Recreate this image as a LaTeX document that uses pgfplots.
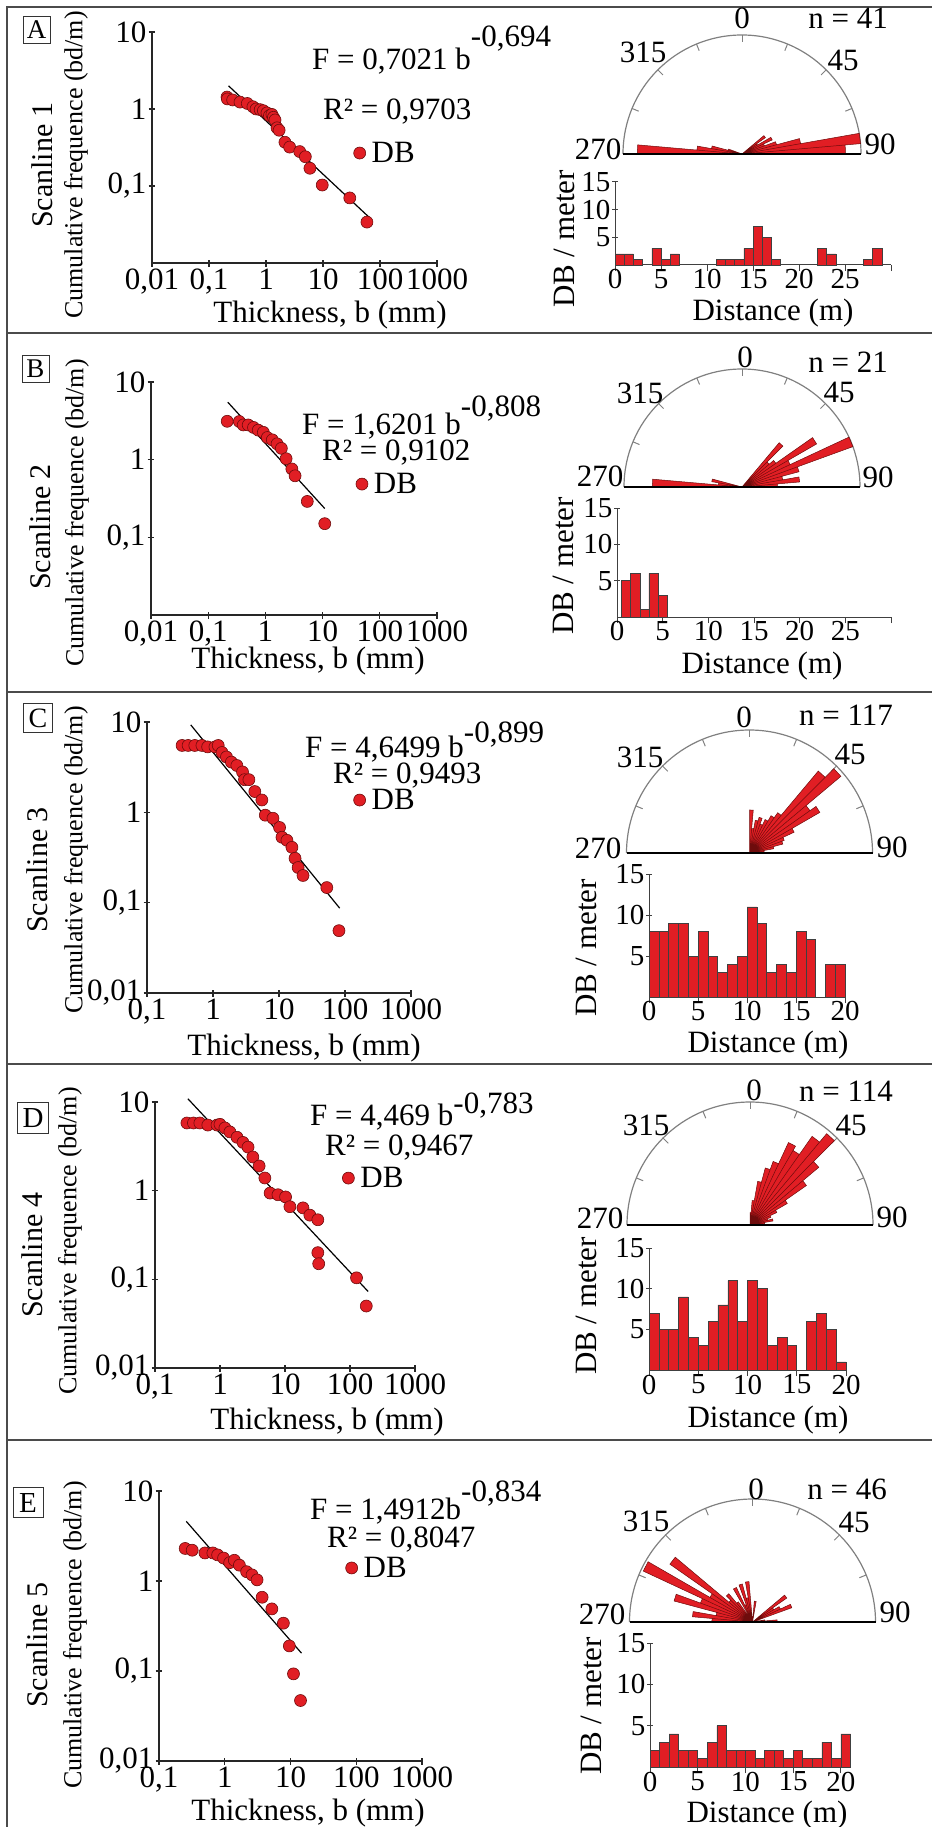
\documentclass[border=0pt]{standalone}
\usepackage{fontspec}
\setmainfont{Liberation Serif}
\usepackage{pgfplots}
\pgfplotsset{compat=1.18}
\usepgfplotslibrary{polar}
\definecolor{mred}{RGB}{225,30,36}
\definecolor{dred}{RGB}{110,12,12}
\definecolor{framec}{RGB}{75,75,75}
\newcommand{\fs}[1]{\fontsize{#1}{#1}\selectfont}
\pgfplotsset{
 myscat/.style={scale only axis, axis lines*=left,
   axis line style={line width=1.5pt, black!85}, tick style={line width=1.2pt, black!85},
   major tick length=7pt, tick align=center, xminorticks=false, yminorticks=false,
   ticklabel style={font=\fs{31}, inner sep=2pt}, enlargelimits=false, clip=false,
   ymin=0.01, ymax=10, anchor=south west,
   legend style={draw=none, fill=none, anchor=west, font=\fs{31}, inner sep=0pt, column sep=4pt}},
 mydots/.style={only marks, mark=*, mark size=6pt, mark options={fill=mred, draw=dred, line width=0.6pt}},
 myfit/.style={black, line width=1.2pt, no marks},
 myhist/.style={scale only axis, axis lines*=left, anchor=south west, ymin=0, ymax=15, ytick={5,10,15},
   axis line style={line width=1pt, black!75}, tick style={line width=1pt, black!75},
   major tick length=6pt, tick align=center, ybar, bar width=1, bar shift=0pt,
   ticklabel style={font=\fs{29}, inner sep=1.5pt}, xticklabel style={yshift=3pt}, enlargelimits=false, clip=false,
   /pgf/number format/assume math mode=true},
 mybars/.style={fill=mred, draw=black!75, line width=0.6pt},
 myrose/.style={scale only axis, axis lines=none, xmin=-1, xmax=1, ymin=0, ymax=1, clip=false, enlargelimits=false, anchor=south west},
 mypetals/.style={data cs=polar, fill=mred, draw=dred, line width=0.5pt, no marks},
}
\begin{document}
\begin{tikzpicture}
\useasboundingbox (0pt,0pt) rectangle (932pt,-1827pt);
\draw[framec, line width=2pt] (7pt,-1827pt) -- (7pt,-7pt) -- (932pt,-7pt);
\draw[framec, line width=2pt] (7pt,-333pt) -- (932pt,-333pt);
\draw[framec, line width=2pt] (7pt,-692pt) -- (932pt,-692pt);
\draw[framec, line width=2pt] (7pt,-1064pt) -- (932pt,-1064pt);
\draw[framec, line width=2pt] (7pt,-1440pt) -- (932pt,-1440pt);

%================ PANEL A =================
\begin{axis}[xmode=log, ymode=log, myscat, at={(152pt,-263pt)}, width=285pt, height=231pt, xmin=0.01, xmax=1000,
  xtick={0.01,0.1,1,10,100,1000}, xticklabels={\mbox{0,01},\mbox{0,1},1,10,100,1000},
  ytick={0.1,1,10}, yticklabels={\mbox{0,1},1,10}, legend style={at={(0.707,0.476)}}]
\addplot[mydots] coordinates {(0.207,1.43) (0.21,1.35) (0.26,1.31) (0.35,1.23) (0.47,1.18) (0.59,1.07) (0.67,1.0) (0.79,0.98) (0.9,0.95) (1.04,0.89) (1.15,0.82) (1.27,0.85) (1.35,0.78) (1.44,0.72) (1.56,0.57) (1.7,0.53) (2.15,0.37) (2.6,0.32) (3.9,0.28) (4.9,0.24) (5.9,0.17) (9.7,0.103) (29.5,0.07) (59,0.034)};
\addlegendentry{DB}
\addplot[myfit] coordinates {(0.22,2.0) (65,0.039)};
\end{axis}
\node[draw=black!80, line width=0.8pt, inner sep=0pt, minimum size=27pt, font=\fs{27}] at (36.5pt,-30pt) {A};
\node[rotate=90, font=\fs{30}] at (42pt,-165pt) {Scanline 1};
\node[rotate=90, font=\fs{26}] at (76pt,-165pt) {Cumulative frequence (bd/m)};
\node[anchor=base, font=\fs{31}, inner sep=0pt] at (330pt,-322pt) {Thickness, b (mm)};
\node[anchor=base west, inner sep=0pt, font=\fs{31}] at (312pt,-70pt) {F = 0,7021 b\raisebox{23pt}{-0,694}};
\node[anchor=base west, inner sep=0pt, font=\fs{31}] at (323pt,-120pt) {R² = 0,9703};

\begin{axis}[myrose, at={(623pt,-154pt)}, width=238pt, height=119pt]
\draw[gray, line width=1.2pt] (axis cs:1,0) arc[start angle=0, end angle=180, radius=119pt];
\pgfplotsinvokeforeach{22.5,45,67.5,90,112.5,135,157.5}{\draw[gray, line width=1pt] (axis cs:{cos(#1)},{sin(#1)}) -- (axis cs:{0.94*cos(#1)},{0.94*sin(#1)});}
\addplot[mypetals] coordinates {(0,0) (0,0.87) (5,0.87) (0,0) (5,1) (10,1) (0,0) (10,0.5) (15,0.5) (0,0) (15,0.3) (20,0.3) (0,0) (20,0.2) (25,0.2) (0,0) (25,0.28) (30,0.28) (0,0) (30,0.15) (35,0.15) (0,0) (35,0.24) (40,0.24) (0,0) (160,0.12) (165,0.12) (0,0) (165,0.26) (170,0.26) (0,0) (170,0.38) (175,0.38) (0,0) (175,0.88) (180,0.88) (0,0)} -- cycle;
\draw[black, line width=1.6pt] (axis cs:-1,0) -- (axis cs:1,0);
\end{axis}
\node[font=\fs{31}, inner sep=0pt] at (742pt,-18pt) {0};
\node[font=\fs{31}, inner sep=0pt] at (848pt,-18pt) {n = 41};
\node[font=\fs{31}, inner sep=0pt] at (643pt,-52pt) {315};
\node[font=\fs{31}, inner sep=0pt] at (843pt,-60pt) {45};
\node[font=\fs{31}, inner sep=0pt] at (598pt,-149pt) {270};
\node[font=\fs{31}, inner sep=0pt] at (880pt,-144pt) {90};

\begin{axis}[myhist, at={(615pt,-265pt)}, width=276pt, height=83pt, xmin=0, xmax=30,
  xtick={0,5,10,15,20,25,30}, xticklabels={0,5,10,15,20,25,{}}]
\addplot[mybars] coordinates {(0.5,2) (1.5,2) (2.5,1) (4.5,3) (5.5,1) (6.5,2) (11.5,1) (12.5,1) (13.5,1) (14.5,3) (15.5,7) (16.5,5) (17.5,1) (22.5,3) (23.5,2) (27.5,1) (28.5,3)};
\end{axis}
\node[rotate=90, font=\fs{31}] at (564pt,-239pt) {DB / meter};
\node[anchor=base, font=\fs{31}, inner sep=0pt] at (773pt,-320pt) {Distance (m)};

%================ PANEL B =================
\begin{axis}[xmode=log, ymode=log, myscat, at={(151pt,-615pt)}, width=286pt, height=233pt, xmin=0.01, xmax=1000,
  xtick={0.01,0.1,1,10,100,1000}, xticklabels={\mbox{0,01},\mbox{0,1},1,10,100,1000},
  ytick={0.1,1,10}, yticklabels={\mbox{0,1},1,10}, legend style={at={(0.716,0.562)}}]
\addplot[mydots] coordinates {(0.215,3.12) (0.35,3.1) (0.41,2.8) (0.5,2.8) (0.62,2.6) (0.75,2.4) (0.92,2.25) (1.08,1.93) (1.32,1.8) (1.6,1.6) (1.9,1.4) (2.3,1.03) (2.9,0.76) (3.3,0.62) (5.4,0.29) (10.9,0.15)};
\addlegendentry{DB}
\addplot[myfit] coordinates {(0.22,5.5) (10.9,0.235)};
\end{axis}
\node[draw=black!80, line width=0.8pt, inner sep=0pt, minimum size=27pt, font=\fs{27}] at (35.5pt,-369pt) {B};
\node[rotate=90, font=\fs{30}] at (40pt,-527pt) {Scanline 2};
\node[rotate=90, font=\fs{26}] at (77pt,-513pt) {Cumulative frequence (bd/m)};
\node[anchor=base, font=\fs{31}, inner sep=0pt] at (308pt,-668pt) {Thickness, b (mm)};
\node[anchor=base west, inner sep=0pt, font=\fs{31}] at (302pt,-434pt) {F = 1,6201 b\raisebox{18pt}{-0,808}};
\node[anchor=base west, inner sep=0pt, font=\fs{31}] at (322pt,-460pt) {R² = 0,9102};

\begin{axis}[myrose, at={(624pt,-487pt)}, width=236pt, height=118pt]
\draw[gray, line width=1.2pt] (axis cs:1,0) arc[start angle=0, end angle=180, radius=118pt];
\pgfplotsinvokeforeach{22.5,45,67.5,90,112.5,135,157.5}{\draw[gray, line width=1pt] (axis cs:{cos(#1)},{sin(#1)}) -- (axis cs:{0.94*cos(#1)},{0.94*sin(#1)});}
\addplot[mypetals] coordinates {(0,0) (0,0.3) (5,0.3) (0,0) (5,0.49) (10,0.49) (0,0) (10,0.35) (15,0.35) (0,0) (15,0.5) (20,0.5) (0,0) (20,1) (25,1) (0,0) (25,0.45) (30,0.45) (0,0) (30,0.73) (35,0.73) (0,0) (35,0.35) (40,0.35) (0,0) (40,0.3) (45,0.3) (0,0) (45,0.49) (50,0.49) (0,0) (165,0.26) (170,0.26) (0,0) (170,0.2) (175,0.2) (0,0) (175,0.76) (180,0.76) (0,0)} -- cycle;
\draw[black, line width=1.6pt] (axis cs:-1,0) -- (axis cs:1,0);
\end{axis}
\node[font=\fs{31}, inner sep=0pt] at (745pt,-357pt) {0};
\node[font=\fs{31}, inner sep=0pt] at (848pt,-362pt) {n = 21};
\node[font=\fs{31}, inner sep=0pt] at (640pt,-393pt) {315};
\node[font=\fs{31}, inner sep=0pt] at (839pt,-392pt) {45};
\node[font=\fs{31}, inner sep=0pt] at (600pt,-476pt) {270};
\node[font=\fs{31}, inner sep=0pt] at (878pt,-477pt) {90};

\begin{axis}[myhist, at={(617pt,-617pt)}, width=274pt, height=109pt, xmin=0, xmax=30,
  xtick={0,5,10,15,20,25,30}, xticklabels={0,5,10,15,20,25,{}}]
\addplot[mybars] coordinates {(1,5) (2,6) (3,1) (4,6) (5,3)};
\end{axis}
\node[rotate=90, font=\fs{31}] at (563pt,-566pt) {DB / meter};
\node[anchor=base, font=\fs{31}, inner sep=0pt] at (762pt,-673pt) {Distance (m)};

%================ PANEL C =================
\begin{axis}[xmode=log, ymode=log, myscat, at={(147pt,-993pt)}, width=264pt, height=271pt, xmin=0.1, xmax=1000,
  xtick={0.1,1,10,100,1000}, xticklabels={\mbox{0,1},1,10,100,1000},
  ytick={0.01,0.1,1,10}, yticklabels={\mbox{0,01},\mbox{0,1},1,10}, legend style={at={(0.782,0.712)}}]
\addplot[mydots] coordinates {(0.34,5.5) (0.42,5.5) (0.53,5.5) (0.68,5.5) (0.83,5.3) (1.07,5.3) (1.2,5.5) (1.37,4.6) (1.6,4.1) (1.9,3.6) (2.3,3.3) (2.8,2.8) (3.0,2.3) (3.5,2.3) (4.3,1.7) (5.5,1.37) (6.2,0.93) (8.1,0.86) (10.2,0.68) (11.1,0.53) (13.2,0.49) (15.7,0.41) (17.5,0.31) (19.5,0.245) (23.1,0.2) (53,0.147) (81,0.049)};
\addlegendentry{DB}
\addplot[myfit] coordinates {(0.46,9.3) (83,0.087)};
\end{axis}
\node[draw=black!80, line width=0.8pt, inner sep=0pt, minimum size=29pt, font=\fs{28}] at (38pt,-718pt) {C};
\node[rotate=90, font=\fs{30}] at (37pt,-870pt) {Scanline 3};
\node[rotate=90, font=\fs{26}] at (76pt,-860pt) {Cumulative frequence (bd/m)};
\node[anchor=base, font=\fs{31}, inner sep=0pt] at (304pt,-1055pt) {Thickness, b (mm)};
\node[anchor=base west, inner sep=0pt, font=\fs{31}] at (305pt,-757pt) {F = 4,6499 b\raisebox{15pt}{-0,899}};
\node[anchor=base west, inner sep=0pt, font=\fs{31}] at (333pt,-783pt) {R² = 0,9493};

\begin{axis}[myrose, at={(626.5pt,-853pt)}, width=246pt, height=123pt]
\draw[gray, line width=1.2pt] (axis cs:1,0) arc[start angle=0, end angle=180, radius=123pt];
\pgfplotsinvokeforeach{22.5,45,67.5,90,112.5,135,157.5}{\draw[gray, line width=1pt] (axis cs:{cos(#1)},{sin(#1)}) -- (axis cs:{0.94*cos(#1)},{0.94*sin(#1)});}
\addplot[mypetals] coordinates {(0,0) (0,0.08) (5,0.08) (0,0) (5,0.12) (10,0.12) (0,0) (10,0.2) (15,0.2) (0,0) (15,0.28) (20,0.28) (0,0) (20,0.3) (25,0.3) (0,0) (25,0.4) (30,0.4) (0,0) (30,0.66) (35,0.66) (0,0) (35,0.6) (40,0.6) (0,0) (40,0.97) (45,0.97) (0,0) (45,0.87) (50,0.87) (0,0) (50,0.4) (55,0.4) (0,0) (55,0.35) (60,0.35) (0,0) (60,0.3) (65,0.3) (0,0) (65,0.25) (70,0.25) (0,0) (70,0.3) (75,0.3) (0,0) (75,0.27) (80,0.27) (0,0) (80,0.2) (85,0.2) (0,0) (85,0.35) (90,0.35) (0,0)} -- cycle;
\draw[black, line width=1.6pt] (axis cs:-1,0) -- (axis cs:1,0);
\end{axis}
\node[font=\fs{31}, inner sep=0pt] at (744pt,-717pt) {0};
\node[font=\fs{31}, inner sep=0pt] at (846pt,-715pt) {n = 117};
\node[font=\fs{31}, inner sep=0pt] at (640pt,-757pt) {315};
\node[font=\fs{31}, inner sep=0pt] at (850pt,-754pt) {45};
\node[font=\fs{31}, inner sep=0pt] at (598pt,-848pt) {270};
\node[font=\fs{31}, inner sep=0pt] at (892pt,-847pt) {90};

\begin{axis}[myhist, at={(649pt,-997pt)}, width=196pt, height=123pt, xmin=0, xmax=20,
  xtick={0,5,10,15,20}]
\addplot[mybars] coordinates {(0.5,8) (1.5,8) (2.5,9) (3.5,9) (4.5,5) (5.5,8) (6.5,5) (7.5,3) (8.5,4) (9.5,5) (10.5,11) (11.5,9) (12.5,3) (13.5,4) (14.5,3) (15.5,8) (16.5,7) (18.5,4) (19.5,4)};
\end{axis}
\node[rotate=90, font=\fs{31}] at (586pt,-948pt) {DB / meter};
\node[anchor=base, font=\fs{31}, inner sep=0pt] at (768pt,-1052pt) {Distance (m)};

%================ PANEL D =================
\begin{axis}[xmode=log, ymode=log, myscat, at={(155pt,-1368pt)}, width=260pt, height=266pt, xmin=0.1, xmax=1000,
  xtick={0.1,1,10,100,1000}, xticklabels={\mbox{0,1},1,10,100,1000},
  ytick={0.01,0.1,1,10}, yticklabels={\mbox{0,01},\mbox{0,1},1,10}, legend style={at={(0.720,0.714)}}]
\addplot[mydots] coordinates {(0.31,5.8) (0.39,5.8) (0.49,5.8) (0.65,5.5) (0.9,5.5) (1.0,5.6) (1.19,5.1) (1.42,4.6) (1.83,4.0) (2.26,3.5) (2.7,3.1) (3.2,2.4) (4.0,1.9) (4.9,1.39) (5.9,0.94) (7.8,0.9) (10.2,0.85) (11.9,0.66) (18.9,0.64) (24.1,0.53) (32,0.47) (32,0.2) (33,0.15) (126,0.104) (178,0.05)};
\addlegendentry{DB}
\addplot[myfit] coordinates {(0.32,10.9) (190,0.073)};
\end{axis}
\node[draw=black!80, line width=0.8pt, inner sep=0pt, minimum size=31pt, font=\fs{29}] at (33pt,-1118pt) {D};
\node[rotate=90, font=\fs{30}] at (32pt,-1255pt) {Scanline 4};
\node[rotate=90, font=\fs{26}] at (70pt,-1241pt) {Cumulative frequence (bd/m)};
\node[anchor=base, font=\fs{31}, inner sep=0pt] at (327pt,-1429pt) {Thickness, b (mm)};
\node[anchor=base west, inner sep=0pt, font=\fs{31}] at (310pt,-1125pt) {F = 4,469 b\raisebox{12pt}{-0,783}};
\node[anchor=base west, inner sep=0pt, font=\fs{31}] at (325pt,-1155pt) {R² = 0,9467};

\begin{axis}[myrose, at={(627pt,-1225pt)}, width=246pt, height=123pt]
\draw[gray, line width=1.2pt] (axis cs:1,0) arc[start angle=0, end angle=180, radius=123pt];
\pgfplotsinvokeforeach{22.5,45,67.5,90,112.5,135,157.5}{\draw[gray, line width=1pt] (axis cs:{cos(#1)},{sin(#1)}) -- (axis cs:{0.94*cos(#1)},{0.94*sin(#1)});}
\addplot[mypetals] coordinates {(0,0) (0,0.1) (5,0.1) (0,0) (5,0.12) (10,0.12) (0,0) (10,0.19) (15,0.19) (0,0) (15,0.15) (20,0.15) (0,0) (20,0.18) (25,0.18) (0,0) (25,0.24) (30,0.24) (0,0) (30,0.35) (35,0.35) (0,0) (35,0.56) (40,0.56) (0,0) (40,0.73) (45,0.73) (0,0) (45,0.97) (50,0.97) (0,0) (50,0.88) (55,0.88) (0,0) (55,0.7) (60,0.7) (0,0) (60,0.74) (65,0.74) (0,0) (65,0.55) (70,0.55) (0,0) (70,0.48) (75,0.48) (0,0) (75,0.36) (80,0.36) (0,0) (80,0.2) (85,0.2) (0,0) (85,0.1) (90,0.1) (0,0)} -- cycle;
\draw[black, line width=1.6pt] (axis cs:-1,0) -- (axis cs:1,0);
\end{axis}
\node[font=\fs{31}, inner sep=0pt] at (754pt,-1090pt) {0};
\node[font=\fs{31}, inner sep=0pt] at (846pt,-1091pt) {n = 114};
\node[font=\fs{31}, inner sep=0pt] at (646pt,-1125pt) {315};
\node[font=\fs{31}, inner sep=0pt] at (851pt,-1125pt) {45};
\node[font=\fs{31}, inner sep=0pt] at (600pt,-1218pt) {270};
\node[font=\fs{31}, inner sep=0pt] at (892pt,-1217pt) {90};

\begin{axis}[myhist, at={(649pt,-1370pt)}, width=197pt, height=122pt, xmin=0, xmax=20,
  xtick={0,5,10,15,20}]
\addplot[mybars] coordinates {(0.5,7) (1.5,5) (2.5,5) (3.5,9) (4.5,4) (5.5,3) (6.5,6) (7.5,8) (8.5,11) (9.5,6) (10.5,11) (11.5,10) (12.5,3) (13.5,4) (14.5,3) (16.5,6) (17.5,7) (18.5,5) (19.5,1)};
\end{axis}
\node[rotate=90, font=\fs{31}] at (586pt,-1306pt) {DB / meter};
\node[anchor=base, font=\fs{31}, inner sep=0pt] at (768pt,-1427pt) {Distance (m)};

%================ PANEL E =================
\begin{axis}[xmode=log, ymode=log, myscat, at={(159pt,-1761pt)}, width=263pt, height=270pt, xmin=0.1, xmax=1000,
  xtick={0.1,1,10,100,1000}, xticklabels={\mbox{0,1},1,10,100,1000},
  ytick={0.01,0.1,1,10}, yticklabels={\mbox{0,01},\mbox{0,1},1,10}, legend style={at={(0.709,0.715)}}]
\addplot[mydots] coordinates {(0.25,2.3) (0.32,2.2) (0.5,2.05) (0.66,2.05) (0.78,1.95) (0.96,1.8) (1.19,1.6) (1.4,1.7) (1.67,1.5) (2.15,1.27) (2.6,1.17) (3.1,1.03) (3.7,0.66) (5.2,0.49) (7.8,0.34) (9.6,0.19) (11.1,0.093) (14.2,0.047)};
\addlegendentry{DB}
\addplot[myfit] coordinates {(0.26,4.6) (14.7,0.158)};
\end{axis}
\node[draw=black!80, line width=0.8pt, inner sep=0pt, minimum size=30pt, font=\fs{29}] at (28pt,-1502.5pt) {E};
\node[rotate=90, font=\fs{30}] at (37pt,-1645pt) {Scanline 5};
\node[rotate=90, font=\fs{26}] at (75pt,-1635pt) {Cumulative frequence (bd/m)};
\node[anchor=base, font=\fs{31}, inner sep=0pt] at (308pt,-1820pt) {Thickness, b (mm)};
\node[anchor=base west, inner sep=0pt, font=\fs{31}] at (310pt,-1519pt) {F = 1,4912b\raisebox{18pt}{-0,834}};
\node[anchor=base west, inner sep=0pt, font=\fs{31}] at (327pt,-1547pt) {R² = 0,8047};

\begin{axis}[myrose, at={(629.5pt,-1622pt)}, width=246pt, height=123pt]
\draw[gray, line width=1.2pt] (axis cs:1,0) arc[start angle=0, end angle=180, radius=123pt];
\pgfplotsinvokeforeach{22.5,45,67.5,90,112.5,135,157.5}{\draw[gray, line width=1pt] (axis cs:{cos(#1)},{sin(#1)}) -- (axis cs:{0.94*cos(#1)},{0.94*sin(#1)});}
\addplot[mypetals] coordinates {(0,0) (0,0.2) (5,0.2) (0,0) (5,0.1) (10,0.1) (0,0) (20,0.34) (25,0.34) (0,0) (25,0.25) (30,0.25) (0,0) (30,0.2) (35,0.2) (0,0) (35,0.34) (40,0.34) (0,0) (80,0.17) (85,0.17) (0,0) (95,0.33) (100,0.33) (0,0) (100,0.2) (105,0.2) (0,0) (105,0.32) (110,0.32) (0,0) (110,0.15) (115,0.15) (0,0) (115,0.31) (120,0.31) (0,0) (125,0.2) (130,0.2) (0,0) (130,0.3) (135,0.3) (0,0) (135,0.25) (140,0.25) (0,0) (140,0.82) (145,0.82) (0,0) (145,0.4) (150,0.4) (0,0) (150,0.98) (155,0.98) (0,0) (155,0.45) (160,0.45) (0,0) (160,0.66) (165,0.66) (0,0) (165,0.3) (170,0.3) (0,0) (170,0.49) (175,0.49) (0,0) (175,0.33) (180,0.33) (0,0)} -- cycle;
\draw[black, line width=1.6pt] (axis cs:-1,0) -- (axis cs:1,0);
\end{axis}
\node[font=\fs{31}, inner sep=0pt] at (756pt,-1489pt) {0};
\node[font=\fs{31}, inner sep=0pt] at (847pt,-1489pt) {n = 46};
\node[font=\fs{31}, inner sep=0pt] at (646pt,-1521pt) {315};
\node[font=\fs{31}, inner sep=0pt] at (854pt,-1522pt) {45};
\node[font=\fs{31}, inner sep=0pt] at (602pt,-1614pt) {270};
\node[font=\fs{31}, inner sep=0pt] at (895pt,-1612pt) {90};

\begin{axis}[myhist, at={(650pt,-1767pt)}, width=200.5pt, height=124pt, xmin=0, xmax=21,
  xtick={0,5,10,15,20}]
\addplot[mybars] coordinates {(0.5,2) (1.5,3) (2.5,4) (3.5,2) (4.5,2) (5.5,1) (6.5,3) (7.5,5) (8.5,2) (9.5,2) (10.5,2) (11.5,1) (12.5,2) (13.5,2) (14.5,1) (15.5,2) (16.5,1) (17.5,1) (18.5,3) (19.5,1) (20.5,4)};
\end{axis}
\node[rotate=90, font=\fs{31}] at (591pt,-1706pt) {DB / meter};
\node[anchor=base, font=\fs{31}, inner sep=0pt] at (767pt,-1822pt) {Distance (m)};
\end{tikzpicture}
\end{document}
